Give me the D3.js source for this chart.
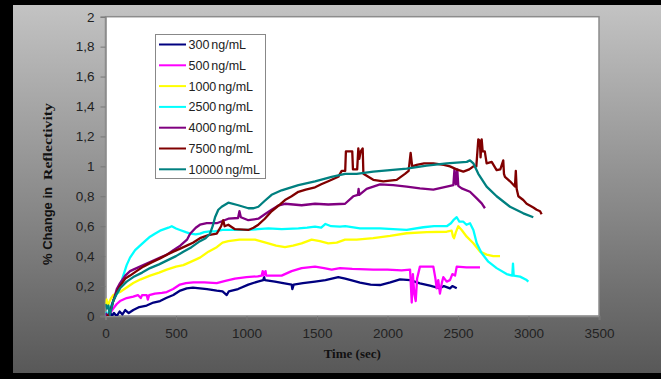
<!DOCTYPE html>
<html>
<head>
<meta charset="utf-8">
<script src="https://cdn.jsdelivr.net/npm/d3@7/dist/d3.min.js"></script>
<style>
  html, body { margin: 0; padding: 0; background: #000; }
  svg { display: block; }
</style>
</head>
<body>
<svg id="chart" width="661" height="379"></svg>
<script>
// Reflectivity change over time for several analyte concentrations
const seriesNames = ["300 ng/mL", "500 ng/mL", "1000 ng/mL", "2500 ng/mL", "4000 ng/mL", "7500 ng/mL", "10000 ng/mL"];
const seriesColors = ["#000080", "#ff00ff", "#ffff00", "#00ffff", "#800080", "#800000", "#008080"];

const xTicks = [0, 500, 1000, 1500, 2000, 2500, 3000, 3500];
const yTicks = [0, 0.2, 0.4, 0.6, 0.8, 1, 1.2, 1.4, 1.6, 1.8, 2];

// [time (sec), % change]
const s300 = [[0,0.01],[15,0.0],[30,0.03],[45,0.0],[60,0.02],[80,0.0],[100,0.03],[120,0.01],[140,0.04],[165,0.02],[197,0.04],[240,0.06],[292,0.07],[340,0.09],[387,0.10],[430,0.12],[481,0.14],[530,0.17],[576,0.185],[620,0.19],[670,0.185],[720,0.18],[789,0.17],[830,0.165],[860,0.14],[875,0.165],[940,0.18],[1013,0.21],[1080,0.23],[1119,0.24],[1125,0.26],[1130,0.24],[1202,0.23],[1260,0.22],[1320,0.21],[1325,0.18],[1335,0.21],[1400,0.22],[1486,0.23],[1560,0.24],[1651,0.26],[1700,0.25],[1760,0.235],[1805,0.223],[1880,0.21],[1947,0.207],[2020,0.225],[2089,0.245],[2160,0.24],[2230,0.218],[2301,0.203],[2372,0.185],[2400,0.2],[2443,0.185],[2460,0.2],[2491,0.185]];

const s500 = [[0,0.0],[20,0.01],[40,0.03],[55,0.05],[80,0.08],[103,0.10],[150,0.12],[197,0.13],[230,0.14],[250,0.12],[260,0.14],[292,0.14],[300,0.11],[310,0.14],[350,0.15],[400,0.155],[434,0.16],[480,0.18],[528,0.21],[570,0.22],[623,0.225],[700,0.225],[789,0.22],[850,0.235],[918,0.25],[1000,0.26],[1080,0.265],[1108,0.27],[1115,0.3],[1120,0.27],[1135,0.3],[1140,0.27],[1200,0.27],[1249,0.27],[1320,0.3],[1391,0.32],[1486,0.33],[1550,0.32],[1604,0.31],[1663,0.32],[1750,0.315],[1899,0.31],[2000,0.31],[2100,0.305],[2160,0.31],[2172,0.09],[2180,0.28],[2190,0.15],[2200,0.1],[2210,0.25],[2230,0.33],[2280,0.33],[2325,0.33],[2340,0.25],[2349,0.185],[2360,0.24],[2372,0.15],[2385,0.22],[2396,0.26],[2420,0.23],[2443,0.24],[2460,0.28],[2479,0.27],[2491,0.33],[2560,0.325],[2656,0.325]];

const s1000 = [[0,0.08],[8,0.11],[15,0.06],[25,0.09],[40,0.12],[55,0.14],[80,0.15],[103,0.16],[150,0.19],[197,0.22],[250,0.245],[316,0.27],[380,0.29],[434,0.31],[500,0.33],[552,0.34],[600,0.36],[670,0.39],[730,0.43],[789,0.46],[830,0.49],[871,0.50],[950,0.51],[1060,0.51],[1155,0.485],[1210,0.47],[1273,0.46],[1330,0.47],[1391,0.485],[1462,0.51],[1520,0.5],[1580,0.485],[1640,0.49],[1699,0.51],[1781,0.51],[1899,0.52],[2018,0.535],[2136,0.553],[2278,0.56],[2420,0.563],[2455,0.57],[2465,0.53],[2472,0.52],[2485,0.56],[2502,0.60],[2526,0.575],[2562,0.53],[2609,0.486],[2656,0.43],[2703,0.41],[2750,0.4],[2798,0.40]];

const s2500 = [[0,0.03],[10,0.0],[20,0.02],[30,0.05],[55,0.10],[75,0.14],[91,0.16],[110,0.22],[126,0.27],[150,0.34],[174,0.39],[210,0.44],[245,0.47],[280,0.5],[316,0.53],[350,0.55],[387,0.57],[446,0.59],[470,0.6],[500,0.585],[528,0.575],[570,0.56],[600,0.55],[640,0.545],[670,0.55],[700,0.56],[740,0.565],[777,0.565],[830,0.575],[895,0.575],[1013,0.575],[1080,0.58],[1155,0.585],[1250,0.58],[1368,0.585],[1430,0.59],[1486,0.597],[1530,0.59],[1560,0.615],[1600,0.6],[1663,0.597],[1700,0.6],[1805,0.586],[1947,0.586],[2040,0.58],[2136,0.575],[2254,0.593],[2330,0.6],[2420,0.60],[2450,0.62],[2467,0.64],[2491,0.66],[2510,0.63],[2538,0.63],[2560,0.61],[2585,0.62],[2609,0.575],[2633,0.486],[2668,0.42],[2715,0.363],[2774,0.32],[2845,0.28],[2885,0.27],[2890,0.35],[2895,0.27],[2940,0.263],[2987,0.24],[2999,0.23]];

const s4000 = [[0,0.02],[15,0.0],[30,0.02],[55,0.1],[80,0.18],[103,0.22],[140,0.27],[174,0.3],[197,0.31],[268,0.34],[316,0.36],[387,0.39],[436,0.41],[481,0.44],[530,0.47],[578,0.51],[600,0.55],[640,0.59],[670,0.61],[718,0.62],[789,0.62],[871,0.65],[940,0.655],[950,0.7],[960,0.66],[1013,0.64],[1084,0.65],[1130,0.68],[1178,0.71],[1230,0.74],[1273,0.75],[1391,0.74],[1486,0.75],[1580,0.745],[1699,0.75],[1757,0.80],[1790,0.81],[1795,0.85],[1800,0.81],[1852,0.85],[1947,0.88],[2041,0.875],[2136,0.865],[2230,0.853],[2325,0.845],[2420,0.865],[2467,0.875],[2475,0.98],[2485,0.88],[2495,0.98],[2502,0.87],[2526,0.853],[2585,0.83],[2633,0.786],[2668,0.753],[2691,0.72]];

const s7500 = [[10,0.0],[25,0.01],[40,0.05],[55,0.10],[80,0.16],[103,0.20],[140,0.25],[174,0.27],[220,0.30],[268,0.33],[330,0.36],[387,0.385],[436,0.41],[481,0.43],[530,0.45],[576,0.47],[620,0.49],[670,0.52],[730,0.54],[789,0.55],[820,0.6],[835,0.64],[845,0.6],[871,0.61],[918,0.58],[1013,0.575],[1050,0.59],[1084,0.61],[1130,0.65],[1178,0.70],[1230,0.74],[1273,0.775],[1320,0.80],[1368,0.83],[1420,0.845],[1486,0.86],[1530,0.88],[1580,0.90],[1651,0.93],[1675,0.97],[1700,0.97],[1705,1.1],[1750,1.1],[1755,0.98],[1785,0.98],[1793,1.12],[1800,1.05],[1810,1.1],[1824,1.12],[1829,0.95],[1899,0.91],[1970,0.90],[2065,0.91],[2124,0.95],[2150,0.97],[2164,1.09],[2175,1.0],[2207,1.01],[2260,1.02],[2325,1.02],[2400,1.01],[2443,1.0],[2490,0.98],[2538,0.965],[2580,0.98],[2609,1.0],[2630,1.0],[2644,1.18],[2655,1.17],[2660,1.06],[2668,1.18],[2675,1.1],[2690,1.1],[2703,1.02],[2739,1.03],[2774,0.975],[2800,0.98],[2821,1.04],[2826,0.95],[2833,0.93],[2869,0.90],[2904,0.865],[2910,0.97],[2916,0.85],[2928,0.80],[2963,0.775],[2987,0.75],[3034,0.725],[3058,0.71],[3082,0.70],[3093,0.68]];

const s10000 = [[0,0.08],[10,0.05],[20,0.07],[30,0.01],[40,0.04],[55,0.10],[80,0.15],[103,0.185],[150,0.23],[197,0.26],[260,0.29],[316,0.32],[380,0.345],[434,0.37],[500,0.40],[552,0.43],[610,0.46],[670,0.50],[710,0.52],[741,0.55],[760,0.6],[777,0.66],[800,0.71],[824,0.73],[871,0.757],[942,0.74],[1013,0.72],[1050,0.72],[1084,0.73],[1130,0.77],[1178,0.81],[1249,0.84],[1368,0.875],[1486,0.90],[1604,0.93],[1699,0.95],[1781,0.95],[1899,0.965],[2018,0.975],[2136,0.985],[2278,1.005],[2420,1.02],[2562,1.03],[2585,1.04],[2609,1.02],[2644,0.95],[2703,0.865],[2774,0.80],[2869,0.73],[2963,0.686],[3034,0.66]];

const seriesData = [s300, s500, s1000, s2500, s4000, s7500, s10000];

const svg = d3.select("#chart");
const W = 661, H = 379;
const plot = { left: 105.5, right: 599, top: 16.7, bottom: 316 };

// panel background with vertical grey gradient
const defs = svg.append("defs");
const grad = defs.append("linearGradient").attr("id", "bg").attr("x1", 0).attr("y1", 0).attr("x2", 0).attr("y2", 1);
grad.append("stop").attr("offset", "0%").attr("stop-color", "#c3c3c3");
grad.append("stop").attr("offset", "100%").attr("stop-color", "#585858");
defs.append("clipPath").attr("id", "plotClip").append("rect")
  .attr("x", plot.left).attr("y", plot.top)
  .attr("width", plot.right - plot.left).attr("height", plot.bottom - plot.top);

svg.append("rect").attr("width", W).attr("height", H).attr("fill", "#000");
svg.append("rect").attr("x", 13).attr("y", 5).attr("width", W - 13).attr("height", 368).attr("fill", "url(#bg)");

const x = d3.scaleLinear().domain([0, 3500]).range([plot.left, plot.right]);
const y = d3.scaleLinear().domain([0, 2]).range([plot.bottom, plot.top]);

// plot area
svg.append("rect")
  .attr("x", plot.left).attr("y", plot.top)
  .attr("width", plot.right - plot.left).attr("height", plot.bottom - plot.top)
  .attr("fill", "#fff").attr("stroke", "#8c8c8c").attr("stroke-width", 1.5);

const fmt = d => d3.format("~g")(d).replace(".", ",");

const yAxis = svg.append("g").attr("transform", `translate(${plot.left},0)`)
  .call(d3.axisLeft(y).tickValues(yTicks).tickFormat(fmt).tickSize(5).tickPadding(6));
const xAxis = svg.append("g").attr("transform", `translate(0,${plot.bottom})`)
  .call(d3.axisBottom(x).tickValues(xTicks).tickFormat(d3.format("d")).tickSize(4).tickPadding(8));

[yAxis, xAxis].forEach(a => {
  a.select(".domain").attr("stroke", "#8c8c8c").attr("stroke-width", 1.5);
  a.selectAll(".tick line").attr("stroke", "#777");
  a.selectAll(".tick text").attr("fill", "#222")
    .style("font-family", "'Liberation Sans', Arial, sans-serif").style("font-size", "13.5px");
});

// data lines
const line = d3.line().x(d => x(d[0])).y(d => y(d[1]));
const lines = svg.append("g").attr("clip-path", "url(#plotClip)");
seriesData.forEach((data, i) => {
  lines.append("path").datum(data)
    .attr("d", line)
    .attr("fill", "none")
    .attr("stroke", seriesColors[i])
    .attr("stroke-width", 2.3)
    .attr("stroke-linejoin", "round");
});

// axis titles
svg.append("text")
  .attr("x", (plot.left + plot.right) / 2).attr("y", 358)
  .attr("text-anchor", "middle")
  .style("font-family", "'Liberation Serif', 'Times New Roman', serif")
  .style("font-weight", "bold").style("font-size", "13px").attr("fill", "#111")
  .text("Time (sec)");

const yTitle = svg.append("g").attr("transform", "translate(52,0) rotate(-90)");
yTitle.append("text")
  .attr("x", -265).attr("y", 0)
  .attr("textLength", 78).attr("lengthAdjust", "spacingAndGlyphs")
  .style("font-family", "'Liberation Sans', Arial, sans-serif")
  .style("font-weight", "bold").style("font-size", "12.5px").attr("fill", "#111")
  .text("% Change in");
yTitle.append("text")
  .attr("x", -180).attr("y", 0)
  .attr("textLength", 77).attr("lengthAdjust", "spacingAndGlyphs")
  .style("font-family", "'Liberation Serif', 'Times New Roman', serif")
  .style("font-weight", "bold").style("font-size", "13.5px").attr("fill", "#111")
  .text("Reflectivity");

// legend
const legend = svg.append("g");
legend.append("rect")
  .attr("x", 155.5).attr("y", 34.5).attr("width", 110).attr("height", 144)
  .attr("fill", "#fff").attr("stroke", "#888").attr("stroke-width", 1);
seriesNames.forEach((name, i) => {
  const cy = 44.5 + i * 20.8;
  legend.append("line")
    .attr("x1", 159).attr("x2", 186).attr("y1", cy).attr("y2", cy)
    .attr("stroke", seriesColors[i]).attr("stroke-width", 2);
  legend.append("text")
    .attr("x", 188.5).attr("y", cy + 4.5)
    .style("font-family", "'Liberation Sans', Arial, sans-serif")
    .style("font-size", "12.5px").style("word-spacing", "-1.5px").attr("fill", "#222")
    .text(name);
});
</script>
</body>
</html>
